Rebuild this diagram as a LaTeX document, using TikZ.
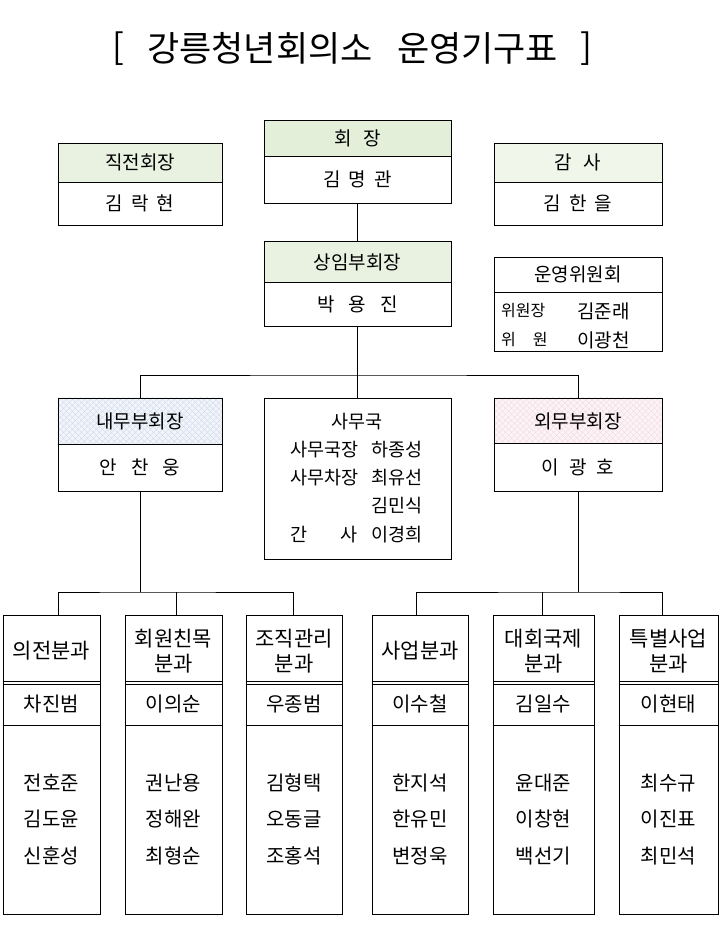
\documentclass[tikz,border=0pt]{standalone}
\usepackage{fontspec}
\setmainfont{Noto Sans CJK KR}
\usetikzlibrary{patterns.meta,backgrounds}
\definecolor{hgreenA}{HTML}{E3EFD9}
\definecolor{hgreenB}{HTML}{E9F1E1}
\definecolor{hgreenC}{HTML}{F0F6EA}
\definecolor{bluebg}{HTML}{F1F4FA}
\definecolor{blueln}{HTML}{CBD6EA}
\definecolor{pinkbg}{HTML}{FCF3F6}
\definecolor{pinkln}{HTML}{F0D5DF}
\newcommand\gp[1]{\hspace{#1pt}}
\tikzset{
  box/.style={draw, line width=1pt, rectangle, inner sep=0pt},
  conn/.style={draw, line width=1pt},
  sep/.style={draw, line width=1pt},
  txt/.style={inner sep=0pt, font=\fontsize{19}{22}\selectfont},
  stxt/.style={inner sep=0pt, font=\fontsize{18.5}{22}\selectfont},
  small/.style={inner sep=0pt, font=\fontsize{16}{19}\selectfont},
  ttl/.style={inner sep=0pt, font=\fontsize{35}{40}\selectfont},
  btitle/.style={inner sep=0pt, align=center, font=\fontsize{21}{25}\selectfont},
  bname/.style={inner sep=0pt, font=\fontsize{20}{23}\selectfont},
}
\begin{document}
\begin{tikzpicture}[x=1pt,y=-1pt]
\useasboundingbox (0,0) rectangle (721,935);

% title
\node[ttl] (tb1) at (118.5,49) {[};
\node[ttl] (tt1) at (260,48) {강릉청년회의소};
\node[ttl] (tt2) at (477.5,48) {운영기구표};
\node[ttl] (tb2) at (586.5,49) {]};

% top boxes
\node[box, minimum width=164pt, minimum height=82pt] (jik) at (140,184) {};
\node[box, minimum width=187pt, minimum height=83pt] (hoe) at (357.5,161.5) {};
\node[box, minimum width=168pt, minimum height=82pt] (gam) at (578,184) {};
\node[box, minimum width=187pt, minimum height=85pt] (sang) at (357.5,283.5) {};
\node[box, minimum width=168pt, minimum height=94pt] (uny) at (578,304) {};
\node[box, minimum width=164pt, minimum height=93pt] (naemu) at (140,444.5) {};
\node[box, minimum width=187pt, minimum height=161pt] (samu) at (357.5,478.5) {};
\node[box, minimum width=168pt, minimum height=93pt] (oemu) at (578,444.5) {};

% bottom boxes
\node[box, minimum width=97pt, minimum height=299pt] (b1) at (51.5,764.5) {};
\node[box, minimum width=97pt, minimum height=299pt] (b2) at (173.5,764.5) {};
\node[box, minimum width=96pt, minimum height=299pt] (b3) at (294,764.5) {};
\node[box, minimum width=96pt, minimum height=299pt] (b4) at (420,764.5) {};
\node[box, minimum width=101pt, minimum height=299pt] (b5) at (543.5,764.5) {};
\node[box, minimum width=99pt, minimum height=299pt] (b6) at (668.5,764.5) {};

\begin{scope}[on background layer]
  \fill[white] (0,0) rectangle (721,935);
  \fill[hgreenB] (jik.north west) rectangle (jik.east |- 0,182);
  \fill[hgreenA] (hoe.north west) rectangle (hoe.east |- 0,156);
  \fill[hgreenC] (gam.north west) rectangle (gam.east |- 0,182);
  \fill[hgreenB] (sang.north west) rectangle (sang.east |- 0,282.5);
  \fill[bluebg] (naemu.north west) rectangle (naemu.east |- 0,444);
  \fill[pattern={Lines[angle=45,distance=4pt,line width=0.6pt]}, pattern color=blueln] (naemu.north west) rectangle (naemu.east |- 0,444);
  \fill[pattern={Lines[angle=-45,distance=4pt,line width=0.6pt]}, pattern color=blueln] (naemu.north west) rectangle (naemu.east |- 0,444);
  \fill[pinkbg] (oemu.north west) rectangle (oemu.east |- 0,443);
  \fill[pattern={Lines[angle=45,distance=4pt,line width=0.6pt]}, pattern color=pinkln] (oemu.north west) rectangle (oemu.east |- 0,443);
  \fill[pattern={Lines[angle=-45,distance=4pt,line width=0.6pt]}, pattern color=pinkln] (oemu.north west) rectangle (oemu.east |- 0,443);
\end{scope}

% dividers
\draw[sep] (jik.west |- 0,182) -- (jik.east |- 0,182);
\draw[sep] (hoe.west |- 0,156) -- (hoe.east |- 0,156);
\draw[sep] (gam.west |- 0,182) -- (gam.east |- 0,182);
\draw[sep] (sang.west |- 0,282.5) -- (sang.east |- 0,282.5);
\draw[sep] (uny.west |- 0,292) -- (uny.east |- 0,292);
\draw[sep] (naemu.west |- 0,444) -- (naemu.east |- 0,444);
\draw[sep] (oemu.west |- 0,443) -- (oemu.east |- 0,443);
\foreach \b in {b1,b2,b3,b4,b5,b6}{
  \draw[sep] (\b.west |- 0,681) -- (\b.east |- 0,681);
  \draw[sep] (\b.west |- 0,684.5) -- (\b.east |- 0,684.5);
  \draw[sep] (\b.west |- 0,725) -- (\b.east |- 0,725);
}

% connectors
\coordinate (jT) at (357.5,375);
\draw[conn] (hoe.south) -- (sang.north);
\draw[conn] (sang.south) -- (samu.north);
\draw[conn] (naemu.north) |- (jT) -| (oemu.north);
\coordinate (jL) at (140,592);
\draw[conn] (naemu.south) -- (jL);
\draw[conn] (b1.north -| 58,0) |- (jL) -| (b3.north -| 293,0);
\draw[conn] (b2.north -| 176,0) -- (jL -| 176,0);
\coordinate (jR) at (578,592);
\draw[conn] (oemu.south) -- (jR);
\draw[conn] (b4.north -| 416,0) |- (jR) -| (b6.north -| 662,0);
\draw[conn] (b5.north -| 542,0) -- (jR -| 542,0);

% texts top
\node[txt] (jik-h) at (140,162.5) {직전회장};
\node[txt] (jik-n) at (140,203.5) {김\gp{8}락\gp{8}현};
\node[txt] (hoe-h) at (357.5,138.5) {회\gp{11.5}장};
\node[txt] (hoe-n) at (357.5,179) {김\gp{8}명\gp{8}관};
\node[txt] (gam-h) at (578,162.5) {감\gp{12}사};
\node[txt] (gam-n) at (578,203.5) {김\gp{8}한\gp{8}을};
\node[txt] (sang-h) at (357.5,262) {상임부회장};
\node[txt] (sang-n) at (357.5,304) {박\gp{14}용\gp{14}진};
\node[txt] (uny-h) at (578,274.5) {운영위원회};
\node[small, anchor=west] (uny-l1) at (501,311) {위원장};
\node[txt, anchor=west] (uny-n1) at (577,311) {김준래};
\node[small, anchor=west] (uny-l2) at (501,340) {위\gp{17}원};
\node[txt, anchor=west] (uny-n2) at (577,340) {이광천};
\node[txt] (naemu-h) at (140,421) {내무부회장};
\node[txt] (naemu-n) at (140,467) {안\gp{14}찬\gp{14}웅};
\node[txt] (oemu-h) at (578,421) {외무부회장};
\node[txt] (oemu-n) at (578,467) {이\gp{10}광\gp{10}호};

% samu
\node[stxt] (samu-h) at (357,421.5) {사무국};
\node[stxt, anchor=west] (samu-l1) at (290.5,450) {사무국장};
\node[stxt, anchor=west] (samu-n1) at (371,450) {하종성};
\node[stxt, anchor=west] (samu-l2) at (290.5,478) {사무차장};
\node[stxt, anchor=west] (samu-n2) at (371,478) {최유선};
\node[stxt, anchor=west] (samu-n3) at (371,506) {김민식};
\node[stxt, anchor=west] (samu-l4) at (290.5,535) {간\gp{32.5}사};
\node[stxt, anchor=west] (samu-n4) at (371,535) {이경희};

% bottom texts
\foreach \b/\t/\n/\ma/\mb/\mc in {
  b1/의전분과/차진범/전호준/김도윤/신훈성,
  b2/회원친목\\분과/이의순/권난용/정해완/최형순,
  b3/조직관리\\분과/우종범/김형택/오동글/조홍석,
  b4/사업분과/이수철/한지석/한유민/변정욱,
  b5/대회국제\\분과/김일수/윤대준/이창현/백선기,
  b6/특별사업\\분과/이현태/최수규/이진표/최민석}{
  \node[btitle] (\b-t) at (\b.center |- 0,651) {\t};
  \node[bname] (\b-n) at (\b.center |- 0,704) {\n};
  \node[bname] (\b-m1) at (\b.center |- 0,783) {\ma};
  \node[bname] (\b-m2) at (\b.center |- 0,819) {\mb};
  \node[bname] (\b-m3) at (\b.center |- 0,856) {\mc};
}
\end{tikzpicture}
\end{document}
